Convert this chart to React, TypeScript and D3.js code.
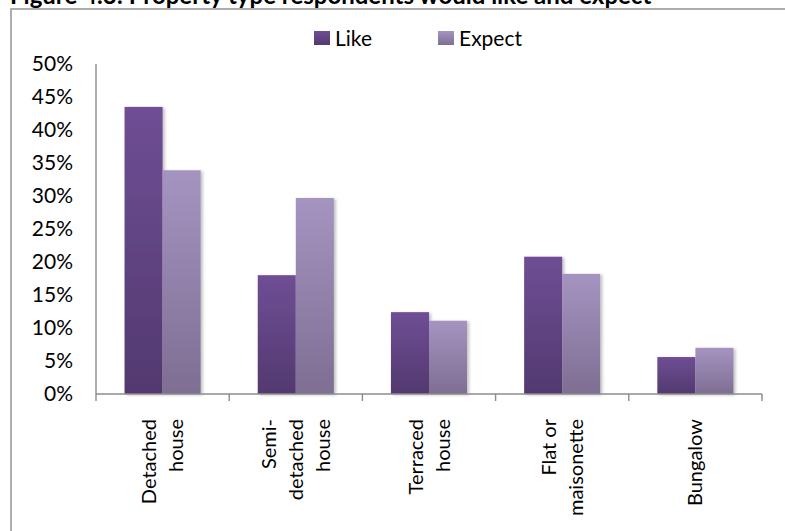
import React from "react";
import * as d3 from "d3";

const categories: string[][] = [
  ["Detached", "house"],
  ["Semi-", "detached", "house"],
  ["Terraced", "house"],
  ["Flat or", "maisonette"],
  ["Bungalow"],
];
const seriesNames = ["Like", "Expect"];
const likeValues = [0.435, 0.18, 0.124, 0.208, 0.056];
const expectValues = [0.339, 0.297, 0.111, 0.182, 0.07];
const yTicks = [0, 0.05, 0.1, 0.15, 0.2, 0.25, 0.3, 0.35, 0.4, 0.45, 0.5];
const titleText = "Figure 4.3: Property type respondents would like and expect";

const W = 785;
const H = 531;
const margin = { left: 96, right: 762, top: 64, bottom: 394 };
const FONT = "Lato, 'Open Sans', sans-serif";

export default function App() {
  const x = d3
    .scaleBand<number>()
    .domain(d3.range(categories.length))
    .range([margin.left, margin.right]);
  const inner = d3
    .scaleBand<string>()
    .domain(seriesNames)
    .range([0, x.bandwidth()])
    .paddingOuter(0.75)
    .paddingInner(0);
  const y = d3.scaleLinear().domain([0, 0.5]).range([margin.bottom, margin.top]);
  const fmt = d3.format(".0%");
  const series = [likeValues, expectValues];
  const grads = ["gradLike", "gradExpect"];

  return (
    <div style={{ position: "fixed", left: 0, top: 0 }}>
      <svg width={W} height={H} style={{ display: "block", background: "#fff" }}>
        <defs>
          <linearGradient id="gradLike" x1="0" y1="0" x2="0" y2="1">
            <stop offset="0%" stopColor="#6f4e95" />
            <stop offset="100%" stopColor="#52396f" />
          </linearGradient>
          <linearGradient id="gradExpect" x1="0" y1="0" x2="0" y2="1">
            <stop offset="0%" stopColor="#a594c0" />
            <stop offset="100%" stopColor="#7e6e93" />
          </linearGradient>
          <filter id="barShadow" x="-20%" y="-5%" width="150%" height="115%">
            <feDropShadow dx="2" dy="1" stdDeviation="1.6" floodColor="#000" floodOpacity="0.25" />
          </filter>
          <filter id="lineShadow" x="0" y="-200%" width="100%" height="500%">
            <feDropShadow dx="0" dy="1" stdDeviation="0.6" floodColor="#000" floodOpacity="0.2" />
          </filter>
        </defs>

        {/* caption running off the top edge, above the frame */}
        <text x={10} y={4} fontFamily={FONT} fontWeight="bold" fontSize={24} fill="#000">
          {titleText}
        </text>

        {/* chart frame */}
        <rect x={11} y={9} width={820} height={560} fill="#fff" stroke="#9a9a9a" strokeWidth={1.6} />

        {/* legend */}
        {seriesNames.map((name, i) => {
          const lx = i === 0 ? 314 : 438;
          return (
            <g key={name}>
              <rect x={lx} y={31} width={16} height={14} fill={`url(#${grads[i]})`} />
              <text x={lx + 21} y={45.5} fontFamily={FONT} fontSize={21} fill="#000">
                {name}
              </text>
            </g>
          );
        })}

        {/* gridlines and y ticks */}
        {yTicks.map((t) => (
          <g key={t}>
            <line
              x1={margin.left - 8}
              x2={margin.right}
              y1={y(t)}
              y2={y(t)}
              stroke="#8c8c8c"
              strokeWidth={1.4}
              filter="url(#lineShadow)"
            />
            <text
              x={73}
              y={y(t)}
              dy="0.35em"
              textAnchor="end"
              fontFamily={FONT}
              fontSize={21}
              fill="#000"
            >
              {fmt(t)}
            </text>
          </g>
        ))}

        {/* y axis */}
        <line x1={margin.left} x2={margin.left} y1={margin.top} y2={margin.bottom} stroke="#8c8c8c" strokeWidth={1.4} />

        {/* bars */}
        {series.map((vals, si) =>
          vals.map((v, ci) => (
            <rect
              key={`${si}-${ci}`}
              x={(x(ci) as number) + (inner(seriesNames[si]) as number)}
              y={y(v)}
              width={inner.bandwidth()}
              height={y(0) - y(v)}
              fill={`url(#${grads[si]})`}
              filter="url(#barShadow)"
            />
          ))
        )}

        {/* x axis and category ticks */}
        <line x1={margin.left} x2={margin.right} y1={margin.bottom} y2={margin.bottom} stroke="#8c8c8c" strokeWidth={1.4} />
        {d3.range(categories.length + 1).map((i) => {
          const tx = margin.left + i * x.step();
          return (
            <line key={i} x1={tx} x2={tx} y1={margin.bottom} y2={margin.bottom + 7} stroke="#8c8c8c" strokeWidth={1.4} />
          );
        })}

        {/* rotated category labels */}
        {categories.map((lines, ci) => {
          const cx = (x(ci) as number) + x.bandwidth() / 2;
          const lh = 27;
          const first = cx - ((lines.length - 1) * lh) / 2;
          return (
            <g key={ci}>
              {lines.map((ln, li) => {
                const lx = first + li * lh;
                return (
                  <text
                    key={li}
                    transform={`translate(${lx + 7},419) rotate(-90)`}
                    textAnchor="end"
                    fontFamily={FONT}
                    fontSize={20}
                    fill="#000"
                  >
                    {ln}
                  </text>
                );
              })}
            </g>
          );
        })}
      </svg>
    </div>
  );
}
